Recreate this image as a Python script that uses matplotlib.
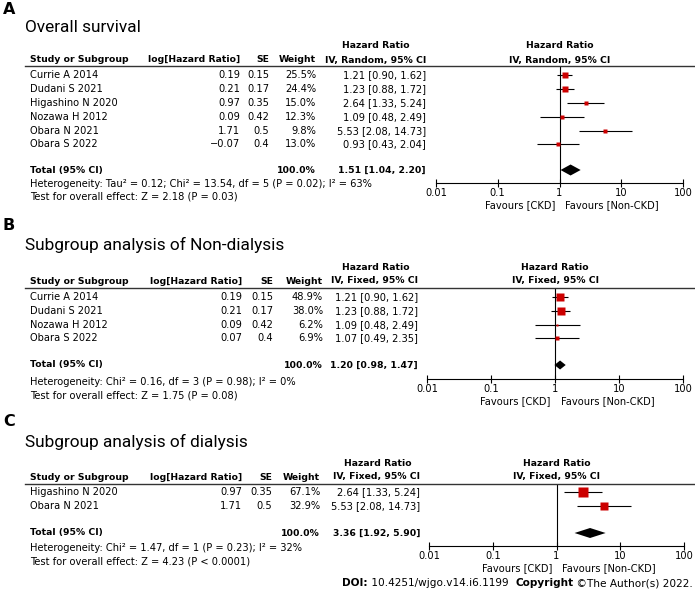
import matplotlib
matplotlib.use("Agg")
import matplotlib.pyplot as plt
from matplotlib.ticker import NullLocator

plt.rcParams['font.family'] = 'DejaVu Sans'
plt.rcParams['font.size'] = 7.1

# ======================================================
# Data
# ======================================================
tick_values = [0.01, 0.1, 1, 10, 100]
tick_labels = ["0.01", "0.1", "1", "10", "100"]

a_studies = ["Currie A 2014", "Dudani S 2021", "Higashino N 2020",
             "Nozawa H 2012", "Obara N 2021", "Obara S 2022"]
a_loghr = [0.19, 0.21, 0.97, 0.09, 1.71, -0.07]
a_se = [0.15, 0.17, 0.35, 0.42, 0.5, 0.4]
a_weight = [25.5, 24.4, 15.0, 12.3, 9.8, 13.0]
a_hr = [1.21, 1.23, 2.64, 1.09, 5.53, 0.93]
a_lo = [0.90, 0.88, 1.33, 0.48, 2.08, 0.43]
a_hi = [1.62, 1.72, 5.24, 2.49, 14.73, 2.04]
a_total = [1.51, 1.04, 2.20]
a_het = "Heterogeneity: Tau² = 0.12; Chi² = 13.54, df = 5 (P = 0.02); I² = 63%"
a_test = "Test for overall effect: Z = 2.18 (P = 0.03)"

b_studies = ["Currie A 2014", "Dudani S 2021", "Nozawa H 2012", "Obara S 2022"]
b_loghr = [0.19, 0.21, 0.09, 0.07]
b_se = [0.15, 0.17, 0.42, 0.4]
b_weight = [48.9, 38.0, 6.2, 6.9]
b_hr = [1.21, 1.23, 1.09, 1.07]
b_lo = [0.90, 0.88, 0.48, 0.49]
b_hi = [1.62, 1.72, 2.49, 2.35]
b_total = [1.20, 0.98, 1.47]
b_het = "Heterogeneity: Chi² = 0.16, df = 3 (P = 0.98); I² = 0%"
b_test = "Test for overall effect: Z = 1.75 (P = 0.08)"

c_studies = ["Higashino N 2020", "Obara N 2021"]
c_loghr = [0.97, 1.71]
c_se = [0.35, 0.5]
c_weight = [67.1, 32.9]
c_hr = [2.64, 5.53]
c_lo = [1.33, 2.08]
c_hi = [5.24, 14.73]
c_total = [3.36, 1.92, 5.90]
c_het = "Heterogeneity: Chi² = 1.47, df = 1 (P = 0.23); I² = 32%"
c_test = "Test for overall effect: Z = 4.23 (P < 0.0001)"

W, H = 695, 593
RED = '#cc0000'
BOLD = 6.7

fig = plt.figure(figsize=(W / 100, H / 100), dpi=100)


def fx(x):
    return x / W


def fy(y):
    return 1 - y / H


def put(x, y, s, **kw):
    fig.text(fx(x), fy(y), s, va='center', **kw)


def bput(x, y, s, **kw):
    put(x, y, s, fontweight='bold', fontsize=BOLD, **kw)


def num(v):
    return str(v).replace('-', '\u2212')


def panel(letter, title, method, studies, loghr, se, weight, hr, lo, hi, total,
          het, test, lay):
    # letter + title
    put(3, lay['label'], letter, fontsize=11.5, fontweight='bold')
    put(25, lay['title'], title, fontsize=12.4, family='Roboto')

    # table header
    bput(lay['hr_c'], lay['hdr1'], "Hazard Ratio", ha='center')
    bput(30, lay['hdr2'], "Study or Subgroup")
    bput(lay['log_r'], lay['hdr2'], "log[Hazard Ratio]", ha='right')
    bput(lay['se_r'], lay['hdr2'], "SE", ha='right')
    bput(lay['w_r'], lay['hdr2'], "Weight", ha='right')
    bput(lay['ci_r'], lay['hdr2'], "IV, %s, 95%% CI" % method, ha='right')
    fig.add_artist(plt.Line2D([fx(25), fx(695)], [fy(lay['line'])] * 2,
                              color='#333333', lw=1.0))

    # study rows
    for i, name in enumerate(studies):
        y = lay['rows'][i]
        put(30, y, name)
        put(lay['log_r'], y, num(loghr[i]), ha='right')
        put(lay['se_r'], y, num(se[i]), ha='right')
        put(lay['w_r'], y, "%.1f%%" % weight[i], ha='right')
        put(lay['ci_r'], y, "%.2f [%.2f, %.2f]" % (hr[i], lo[i], hi[i]), ha='right')

    bput(30, lay['total'], "Total (95% CI)")
    bput(lay['w_r'], lay['total'], "100.0%", ha='right')
    bput(lay['ci_r'], lay['total'], "%.2f [%.2f, %.2f]" % tuple(total), ha='right')
    put(30, lay['het'], het)
    put(30, lay['test'], test)

    # forest plot
    left, right, top, bot = lay['f_left'], lay['f_right'], lay['line'], lay['axis']
    ax = fig.add_axes([fx(left), fy(bot), (right - left) / W, (bot - top) / H])
    ax.set_xscale('log')
    ax.set_xlim(0.01, 100)
    ax.set_ylim(bot, top)
    ax.patch.set_visible(False)
    for s in ['top', 'left', 'right']:
        ax.spines[s].set_visible(False)
    ax.spines['bottom'].set_linewidth(0.8)
    ax.set_xticks(tick_values)
    ax.set_xticklabels(tick_labels)
    ax.xaxis.set_minor_locator(NullLocator())
    ax.tick_params(axis='x', direction='inout', length=6, width=0.8, pad=0.5,
                   labelsize=7.1)
    ax.set_yticks([])
    ax.axvline(1, color='black', lw=0.8)

    ax.hlines(lay['rows'][:len(hr)], lo, hi, color='black', lw=0.8)
    for i in range(len(hr)):
        side = lay['box_k'] * weight[i] ** 0.5
        ax.plot(hr[i], lay['rows'][i], marker='s', ms=side * 0.72,
                color=RED, mec='none', clip_on=False)

    t, tl, th = total
    ty, d = lay['total'], lay['dh']
    ax.fill([tl, t, th, t], [ty, ty - d, ty, ty + d], color='black', lw=0)

    cx = left + (right - left) / 2
    bput(cx, lay['hdr1'], "Hazard Ratio", ha='center')
    bput(cx, lay['hdr2'], "IV, %s, 95%% CI" % method, ha='center')

    ax.annotate("Favours [CKD]", xy=(1, bot), xytext=(-3, -16),
                textcoords='offset points', ha='right', va='center',
                annotation_clip=False)
    ax.annotate("Favours [Non-CKD]", xy=(1, bot), xytext=(4, -16),
                textcoords='offset points', ha='left', va='center',
                annotation_clip=False)


lay_a = dict(label=10, title=27, hdr1=46, hdr2=60, line=66,
             rows=[75, 89, 103, 117, 131, 144], total=170, het=184, test=197,
             axis=183, f_left=436, f_right=683,
             log_r=240, se_r=269, w_r=316, ci_r=426, hr_c=376,
             box_k=1.1, dh=5.5)
lay_b = dict(label=225, title=245, hdr1=267, hdr2=281, line=288,
             rows=[297, 311, 325, 338], total=365, het=382, test=395,
             axis=379, f_left=427, f_right=683,
             log_r=242, se_r=273, w_r=323, ci_r=418, hr_c=376,
             box_k=1.2, dh=4.5)
lay_c = dict(label=422, title=442, hdr1=463, hdr2=477, line=484,
             rows=[492, 506], total=533, het=548, test=562,
             axis=546, f_left=429, f_right=684,
             log_r=242, se_r=272, w_r=320, ci_r=420, hr_c=378,
             box_k=1.3, dh=5)

panel("A", "Overall survival", "Random", a_studies, a_loghr, a_se, a_weight,
      a_hr, a_lo, a_hi, a_total, a_het, a_test, lay_a)
panel("B", "Subgroup analysis of Non-dialysis", "Fixed", b_studies, b_loghr,
      b_se, b_weight, b_hr, b_lo, b_hi, b_total, b_het, b_test, lay_b)
panel("C", "Subgroup analysis of dialysis", "Fixed", c_studies, c_loghr,
      c_se, c_weight, c_hr, c_lo, c_hi, c_total, c_het, c_test, lay_c)

# ======================================================
# DOI / copyright footer
# ======================================================
renderer = fig.canvas.get_renderer()
x = 342
for s, wt in [("DOI:", 'bold'), (" 10.4251/wjgo.v14.i6.1199  ", 'normal'),
              ("Copyright", 'bold'), (" \u00a9The Author(s) 2022.", 'normal')]:
    t = fig.text(fx(x), fy(583), s, va='center', fontsize=7.6, fontweight=wt)
    x += t.get_window_extent(renderer).width

fig.savefig("out.png", dpi=100)
